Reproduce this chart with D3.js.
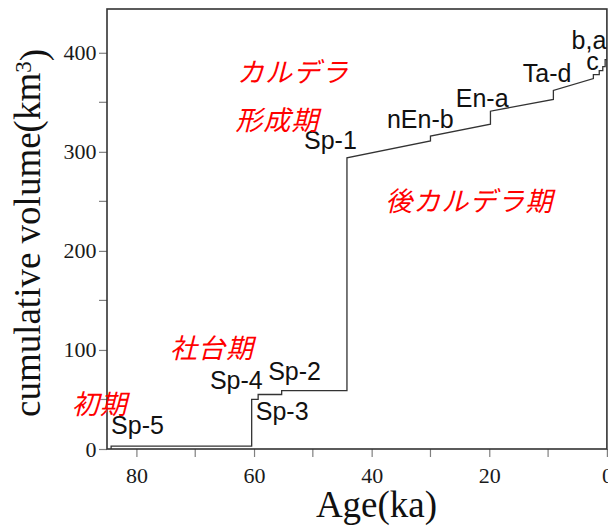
<!DOCTYPE html>
<html>
<head>
<meta charset="utf-8">
<script src="https://cdn.jsdelivr.net/npm/d3@7"></script>
<style>
  body { margin: 0; background: #fff; }
  svg { display: block; }
</style>
</head>
<body>
<script>
// cumulative erupted volume vs age
const stepAge   = [84.3, 84.3, 60.4, 60.4, 59.3, 59.3, 55.3, 55.3, 44.2, 44.2, 30.0, 30.0, 19.8, 19.8, 9.1, 9.1, 2.3, 2.3, 1.3, 1.3, 0.7, 0.7, 0.3, 0.3, 0];
const cumVolume = [0, 3, 3, 50, 50, 55, 55, 59, 59, 294, 311, 316, 328, 341, 353, 362, 374, 378, 378, 382, 382, 386, 386, 393, 393];

// eruption labels, anchored in data units (left edge, baseline)
const eruptNames = ["Sp-5", "Sp-4", "Sp-2", "Sp-3", "Sp-1", "nEn-b", "En-a", "Ta-d", "c", "b,a"];
const eruptAge   = [84.3, 67.5, 57.6, 59.7, 51.5, 37.4, 25.7, 14.3, 3.5, 6.0];
const eruptVol   = [15, 60.5, 69.5, 29, 303, 324, 345, 370, 382.5, 403.5];

// period labels (red), anchored at left edge, vertical centre
const periodNames = ["カルデラ", "形成期", "後カルデラ期", "社台期", "初期"];
const periodAge   = [62.9, 63.2, 37.7, 74.3, 91.0];
const periodVol   = [382.5, 334, 251.5, 103, 47];

const yTicks = [0, 100, 200, 300, 400];
const yMinor = [50, 150, 250, 350];
const xTicks = [80, 60, 40, 20, 0];
const xMinor = [70, 50, 30, 10];

const svgWidth = 608, svgHeight = 526;
const margin = {top: 9, right: 1.1, bottom: 77, left: 107};
const w = svgWidth - margin.left - margin.right;
const h = svgHeight - margin.top - margin.bottom;

const serif = '"Liberation Serif", "Times New Roman", serif';
const sans = '"Liberation Sans", Arial, Helvetica, sans-serif';
const cjk = '"Noto Sans CJK JP", "Noto Sans CJK SC", sans-serif';

const svg = d3.select("body").append("svg")
  .attr("width", svgWidth)
  .attr("height", svgHeight);

const g = svg.append("g")
  .attr("transform", "translate(" + margin.left + "," + margin.top + ")");

const x = d3.scaleLinear().domain([85, 0]).range([0, w]);
const y = d3.scaleLinear().domain([0, 444.2]).range([h, 0]);

// axes
const xAxis = d3.axisBottom(x).tickValues(xTicks).tickSize(8).tickPadding(10).tickFormat(d3.format("d"));
const yAxis = d3.axisLeft(y).tickValues(yTicks).tickSize(8).tickPadding(2.5).tickFormat(d3.format("d"));

const gx = g.append("g").attr("transform", "translate(0," + h + ")").call(xAxis);
const gy = g.append("g").call(yAxis);

[gx, gy].forEach(function(a) {
  a.attr("font-family", serif).attr("font-size", 22);
  a.select(".domain").remove();
  a.selectAll(".tick line").attr("stroke", "#808080").attr("stroke-width", 1.2);
  a.selectAll(".tick text")
    .attr("fill", "#1a1a1a")
    .attr("font-family", serif)
    .style("font-family", serif)
    .style("font-size", "22px");
});

// minor ticks
g.append("g").selectAll("line").data(xMinor).enter().append("line")
  .attr("x1", function(d) { return x(d); })
  .attr("x2", function(d) { return x(d); })
  .attr("y1", h).attr("y2", h + 8)
  .attr("stroke", "#808080").attr("stroke-width", 1.2);

g.append("g").selectAll("line").data(yMinor).enter().append("line")
  .attr("y1", function(d) { return y(d); })
  .attr("y2", function(d) { return y(d); })
  .attr("x1", 0).attr("x2", -8)
  .attr("stroke", "#808080").attr("stroke-width", 1.2);

// frame
g.append("rect")
  .attr("width", w).attr("height", h)
  .attr("fill", "none")
  .attr("stroke", "#333")
  .attr("stroke-width", 1.6);

// step line
const pts = stepAge.map(function(a, i) { return [a, cumVolume[i]]; });
const line = d3.line()
  .x(function(d) { return x(d[0]); })
  .y(function(d) { return y(d[1]); });

g.append("path")
  .datum(pts)
  .attr("d", line)
  .attr("fill", "none")
  .attr("stroke", "#333")
  .attr("stroke-width", 1.3);

// eruption labels
g.append("g").selectAll("text").data(eruptNames).enter().append("text")
  .attr("x", function(d, i) { return x(eruptAge[i]); })
  .attr("y", function(d, i) { return y(eruptVol[i]); })
  .attr("fill", "#111")
  .style("font-family", sans)
  .style("font-size", "25px")
  .text(function(d) { return d; });

// period labels
g.append("g").selectAll("text").data(periodNames).enter().append("text")
  .attr("x", function(d, i) { return x(periodAge[i]); })
  .attr("y", function(d, i) { return y(periodVol[i]); })
  .attr("dominant-baseline", "central")
  .attr("fill", "#ff0000")
  .style("font-family", cjk)
  .style("font-style", "italic")
  .style("font-size", "27px")
  .style("letter-spacing", "1px")
  .text(function(d) { return d; });

// axis titles
const yTitle = svg.append("text")
  .attr("transform", "translate(40,233) rotate(-90)")
  .attr("text-anchor", "middle")
  .attr("fill", "#111")
  .style("font-family", serif)
  .style("font-size", "37px");
yTitle.append("tspan").text("cumulative volume(km");
yTitle.append("tspan").attr("dy", "-0.4em").style("font-size", "23px").text("3");
yTitle.append("tspan").attr("dy", "0.4em").text(")");

svg.append("text")
  .attr("x", 376.5)
  .attr("y", 517)
  .attr("text-anchor", "middle")
  .attr("fill", "#111")
  .style("font-family", serif)
  .style("font-size", "37px")
  .text("Age(ka)");
</script>
</body>
</html>
